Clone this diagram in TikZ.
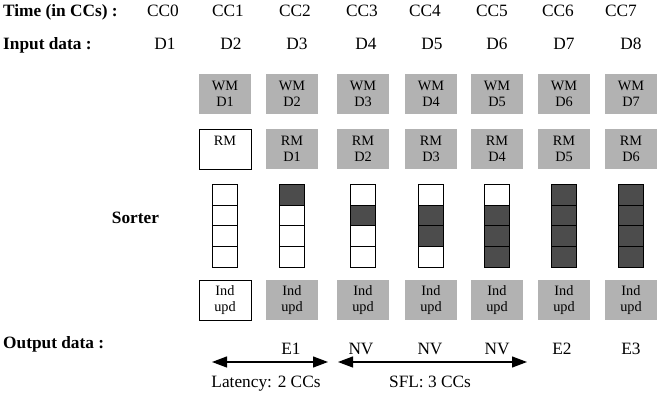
\documentclass[tikz,border=0pt]{standalone}
\usepackage{fontspec}
\setmainfont{Liberation Serif}
\usetikzlibrary{arrows.meta,shapes.multipart}
\definecolor{memgray}{gray}{0.7}
\definecolor{fullgray}{gray}{0.3}

\begin{document}
\begin{tikzpicture}[x=1pt,y=-1pt,>={Triangle[length=15pt,width=11pt]},
                    txt/.style={anchor=base,inner sep=0pt,
                                font=\fontsize{17.3}{20}\selectfont},
                    head/.style={txt,anchor=base west,
                                 font=\fontsize{17.3}{20}\selectfont\bfseries},
                    mem/.style={fill=memgray,minimum width=52pt,minimum height=40pt,
                                inner sep=0pt,align=center,
                                font=\fontsize{14.3}{16}\selectfont},
                    memw/.style={mem,fill=white,draw=black,line width=0.9pt},
                    sorter/.style={rectangle split,rectangle split parts=4,
                                   rectangle split ignore empty parts=false,
                                   rectangle split empty part width=20pt,
                                   rectangle split empty part height=19.75pt,
                                   rectangle split empty part depth=0pt,
                                   draw,line width=1pt,inner sep=0pt,
                                   minimum width=20pt,anchor=north}]

  \useasboundingbox (0,0) rectangle (657,403);

  \node[head] (time)  at (3,17)   {Time (in CCs) :};
  \node[txt]  (cc0)   at (163,17) {CC0};
  \node[txt]  (cc1)   at (228,17) {CC1};
  \node[txt]  (cc2)   at (295,17) {CC2};
  \node[txt]  (cc3)   at (362,17) {CC3};
  \node[txt]  (cc4)   at (425,17) {CC4};
  \node[txt]  (cc5)   at (492,17) {CC5};
  \node[txt]  (cc6)   at (558,17) {CC6};
  \node[txt]  (cc7)   at (621,17) {CC7};

  \node[head] (input) at (3,50)   {Input data :};
  \node[txt]  (d1)    at (165,50) {D1};
  \node[txt]  (d2)    at (231,50) {D2};
  \node[txt]  (d3)    at (297,50) {D3};
  \node[txt]  (d4)    at (366,50) {D4};
  \node[txt]  (d5)    at (432,50) {D5};
  \node[txt]  (d6)    at (497,50) {D6};
  \node[txt]  (d7)    at (564,50) {D7};
  \node[txt]  (d8)    at (631,50) {D8};

  \node[mem]  (wm1)   at (225,94) {WM\\D1};
  \node[mem]  (wm2)   at (292,94) {WM\\D2};
  \node[mem]  (wm3)   at (363,94) {WM\\D3};
  \node[mem]  (wm4)   at (431,94) {WM\\D4};
  \node[mem]  (wm5)   at (497,94) {WM\\D5};
  \node[mem]  (wm6)   at (564,94) {WM\\D6};
  \node[mem]  (wm7)   at (631,94) {WM\\D7};

  \node[memw] (rm1)   at (225,149) {RM\\\phantom{D1}};
  \node[mem]  (rm2)   at (292,149) {RM\\D1};
  \node[mem]  (rm3)   at (363,149) {RM\\D2};
  \node[mem]  (rm4)   at (431,149) {RM\\D3};
  \node[mem]  (rm5)   at (497,149) {RM\\D4};
  \node[mem]  (rm6)   at (564,149) {RM\\D5};
  \node[mem]  (rm7)   at (631,149) {RM\\D6};

  \node[head,anchor=base] (sort) at (135.5,224) {Sorter};
  \node[sorter,rectangle split part fill={white}]                            (s1) at (225,184) {};
  \node[sorter,rectangle split part fill={fullgray,white}]                   (s2) at (292,184) {};
  \node[sorter,rectangle split part fill={white,fullgray,white}]             (s3) at (363,184) {};
  \node[sorter,rectangle split part fill={white,fullgray,fullgray,white}]    (s4) at (431,184) {};
  \node[sorter,rectangle split part fill={white,fullgray}]                   (s5) at (497,184) {};
  \node[sorter,rectangle split part fill={fullgray}]                         (s6) at (564,184) {};
  \node[sorter,rectangle split part fill={fullgray}]                         (s7) at (631,184) {};

  \node[memw] (iu1)   at (225,300) {Ind\\upd};
  \node[mem]  (iu2)   at (292,300) {Ind\\upd};
  \node[mem]  (iu3)   at (363,300) {Ind\\upd};
  \node[mem]  (iu4)   at (431,300) {Ind\\upd};
  \node[mem]  (iu5)   at (497,300) {Ind\\upd};
  \node[mem]  (iu6)   at (564,300) {Ind\\upd};
  \node[mem]  (iu7)   at (631,300) {Ind\\upd};

  \node[head] (output) at (3,349)  {Output data :};
  \node[txt]  (e1)    at (291,355) {E1};
  \node[txt]  (nv1)   at (361,355) {NV};
  \node[txt]  (nv2)   at (430,355) {NV};
  \node[txt]  (nv3)   at (497,355) {NV};
  \node[txt]  (e2)    at (562,355) {E2};
  \node[txt]  (e3)    at (631,355) {E3};

  \coordinate (lat0) at (212,362);
  \coordinate (lat1) at (328,362);
  \coordinate (sfl0) at (338,362);
  \coordinate (sfl1) at (527,362);

  \path[<->,line width=1.2pt] (lat0) edge (lat1)
                              (sfl0) edge (sfl1);

  \node[txt]  (lat)   at (266,388) {Latency: 2 CCs};
  \node[txt]  (sfl)   at (430,388) {SFL: 3 CCs};
\end{tikzpicture}
\end{document}
